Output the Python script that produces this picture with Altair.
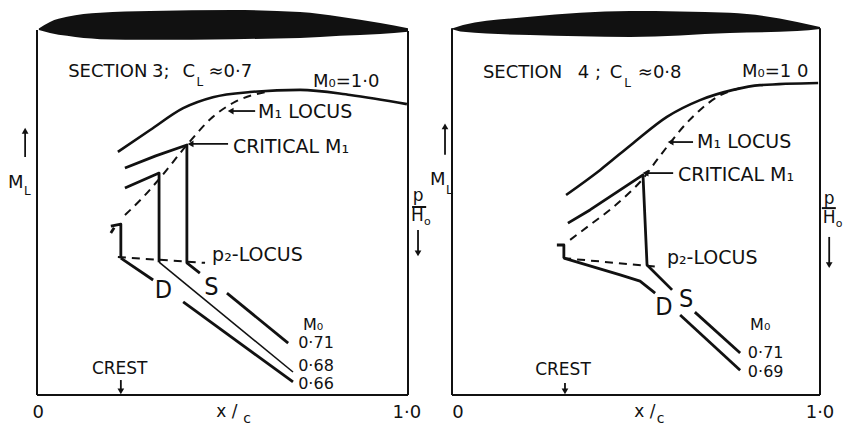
import altair as alt
import pandas as pd

FONT = "DejaVu Sans"
NARROW = "DejaVu Sans Condensed, Liberation Sans Narrow, DejaVu Sans"
INK = "#111111"

# ---------------------------------------------------------------------------
# Section 3 (C_L ~ 0.7).  x/c along the chord, height is normalised so that
# the bottom of the frame is 0 and the chord line of the aerofoil is 1.
# ---------------------------------------------------------------------------
S3_FOIL_X = [0.005, 0.035, 0.081, 0.170, 0.305, 0.528, 0.709, 0.817, 0.925, 1.000]
S3_FOIL_UP = [1.004, 1.022, 1.036, 1.047, 1.052, 1.055, 1.049, 1.036, 1.019, 1.005]
S3_FOIL_LO = [1.000, 0.992, 0.984, 0.975, 0.973, 0.975, 0.978, 0.984, 0.989, 0.995]

S3_M0_10_X = [0.218, 0.305, 0.394, 0.474, 0.574, 0.709, 0.844, 0.997]
S3_M0_10_Y = [0.666, 0.726, 0.786, 0.816, 0.830, 0.836, 0.822, 0.797]

S3_M1_LOCUS_X = [0.237, 0.286, 0.332, 0.404, 0.474, 0.528, 0.615]
S3_M1_LOCUS_Y = [0.493, 0.542, 0.595, 0.685, 0.762, 0.800, 0.830]

S3_071_UP_X = [0.237, 0.320, 0.404, 0.404, 0.439]
S3_071_UP_Y = [0.622, 0.655, 0.685, 0.362, 0.334]
S3_071_DN_X = [0.512, 0.677]
S3_071_DN_Y = [0.279, 0.142]

S3_068_UP_X = [0.237, 0.329, 0.329]
S3_068_UP_Y = [0.567, 0.608, 0.364]
S3_068_DN_X = [0.329, 0.690]
S3_068_DN_Y = [0.364, 0.063]

S3_066_HOOK_X = [0.199, 0.226, 0.226]
S3_066_HOOK_Y = [0.463, 0.468, 0.375]
S3_066_TICK_X = [0.208, 0.199]
S3_066_TICK_Y = [0.458, 0.444]
S3_066_UP_X = [0.226, 0.313]
S3_066_UP_Y = [0.375, 0.315]
S3_066_DN_X = [0.394, 0.690]
S3_066_DN_Y = [0.255, 0.036]

S3_P2_LOCUS_X = [0.218, 0.453]
S3_P2_LOCUS_Y = [0.378, 0.362]

# ---------------------------------------------------------------------------
# Section 4 (C_L ~ 0.8)
# ---------------------------------------------------------------------------
S4_FOIL_X = [0.000, 0.030, 0.212, 0.484, 0.755, 0.938, 1.000]
S4_FOIL_UP = [1.004, 1.014, 1.036, 1.052, 1.047, 1.022, 1.008]
S4_FOIL_LO = [1.002, 0.995, 0.986, 0.981, 0.992, 0.997, 1.003]

S4_M0_10_X = [0.310, 0.402, 0.492, 0.584, 0.674, 0.764, 0.837, 0.995]
S4_M0_10_Y = [0.548, 0.616, 0.690, 0.762, 0.808, 0.836, 0.849, 0.855]

S4_M1_LOCUS_X = [0.321, 0.375, 0.435, 0.484, 0.516, 0.557, 0.592, 0.633, 0.674, 0.720, 0.783]
S4_M1_LOCUS_Y = [0.425, 0.466, 0.512, 0.556, 0.589, 0.644, 0.690, 0.740, 0.781, 0.816, 0.841]

S4_071_UP_X = [0.315, 0.375, 0.448, 0.519, 0.530, 0.598]
S4_071_UP_Y = [0.471, 0.507, 0.556, 0.603, 0.356, 0.288]
S4_071_DN_X = [0.660, 0.783]
S4_071_DN_Y = [0.227, 0.115]

S4_069_HOOK_X = [0.285, 0.304, 0.304]
S4_069_HOOK_Y = [0.411, 0.411, 0.375]
S4_069_UP_X = [0.304, 0.457, 0.511, 0.552]
S4_069_UP_Y = [0.375, 0.329, 0.312, 0.279]
S4_069_DN_X = [0.620, 0.783]
S4_069_DN_Y = [0.219, 0.068]

S4_P2_LOCUS_X = [0.302, 0.565]
S4_P2_LOCUS_Y = [0.375, 0.351]

# Annotation text: (text, x/c, height, font size, align)
S3_LABELS = [
    ("SECTION", 0.084, 0.885, 18, "left"),
    ("3;", 0.310, 0.885, 18, "left"),
    ("C", 0.392, 0.885, 18, "left"),
    ("L", 0.430, 0.858, 12, "left"),
    ("≈0·7", 0.462, 0.885, 18, "left"),
    ("M₀=1·0", 0.744, 0.858, 18, "left"),
    ("M₁ LOCUS", 0.596, 0.775, 19, "left"),
    ("CRITICAL M₁", 0.528, 0.679, 19, "left"),
    ("M", -0.078, 0.581, 18, "left"),
    ("L", -0.035, 0.560, 12, "left"),
    ("p", 1.027, 0.545, 17, "center"),
    ("H", 1.025, 0.490, 17, "center"),
    ("o", 1.052, 0.474, 11, "center"),
    ("p₂-LOCUS", 0.472, 0.384, 19, "left"),
    ("M₀", 0.717, 0.192, 16, "left"),
    ("0·71", 0.704, 0.142, 16, "left"),
    ("0·68", 0.704, 0.079, 16, "left"),
    ("0·66", 0.704, 0.030, 16, "left"),
    ("CREST", 0.148, 0.071, 17, "left"),
    ("0", 0.003, -0.049, 18, "center"),
    ("x /", 0.512, -0.046, 17, "center"),
    ("c", 0.566, -0.065, 14, "center"),
    ("1·0", 0.997, -0.049, 18, "center"),
]
S3_LETTERS = [("D", 0.341, 0.288), ("S", 0.470, 0.296)]

S4_LABELS = [
    ("SECTION", 0.084, 0.882, 18, "left"),
    ("4 ;", 0.342, 0.882, 18, "left"),
    ("C", 0.429, 0.882, 18, "left"),
    ("L", 0.468, 0.855, 12, "left"),
    ("≈0·8", 0.505, 0.882, 18, "left"),
    ("M₀=1 0", 0.788, 0.885, 18, "left"),
    ("M₁ LOCUS", 0.666, 0.693, 19, "left"),
    ("CRITICAL M₁", 0.614, 0.603, 19, "left"),
    ("M", -0.060, 0.589, 18, "left"),
    ("L", -0.016, 0.562, 12, "left"),
    ("p", 1.025, 0.537, 17, "center"),
    ("H", 1.025, 0.486, 17, "center"),
    ("o", 1.052, 0.468, 11, "center"),
    ("p₂-LOCUS", 0.584, 0.375, 19, "left"),
    ("M₀", 0.810, 0.192, 16, "left"),
    ("0·71", 0.804, 0.115, 16, "left"),
    ("0·69", 0.804, 0.063, 16, "left"),
    ("CREST", 0.226, 0.068, 17, "left"),
    ("0", 0.016, -0.049, 18, "center"),
    ("x /", 0.524, -0.046, 17, "center"),
    ("c", 0.567, -0.065, 14, "center"),
    ("1·0", 1.000, -0.049, 18, "center"),
]
S4_LETTERS = [("D", 0.576, 0.241), ("S", 0.636, 0.263)]

# Pointer arrows: shaft (x0, y0, x1, y1) and the head at (x1, y1)
S3_ARROWS = [
    (0.588, 0.778, 0.522, 0.778, "triangle-left"),
    (0.515, 0.688, 0.414, 0.688, "triangle-left"),
    (-0.032, 0.652, -0.032, 0.724, "triangle-up"),
    (1.027, 0.452, 1.027, 0.388, "triangle-down"),
    (0.226, 0.041, 0.226, 0.010, "triangle-down"),
]
S4_ARROWS = [
    (0.655, 0.693, 0.594, 0.693, "triangle-left"),
    (0.601, 0.608, 0.526, 0.608, "triangle-left"),
    (-0.019, 0.658, -0.019, 0.736, "triangle-up"),
    (1.025, 0.433, 1.025, 0.356, "triangle-down"),
    (0.307, 0.033, 0.307, 0.010, "triangle-down"),
]

HEIGHT = 426
Y_DOMAIN = [-31 / 365, 395 / 365]


def path_frame(paths):
    out = []
    for name, xs, ys in paths:
        for k, (x, y) in enumerate(zip(xs, ys)):
            out.append({"path": name, "k": k, "xc": x, "y": y})
    return pd.DataFrame(out, columns=["path", "k", "xc", "y"])


def panel(width, x_domain, foil, smooth, locus, thick, thin, dashed, frame_top,
          bar, labels, letters, arrows):
    X = alt.X("xc:Q", scale=alt.Scale(domain=x_domain, nice=False, zero=False), axis=None)
    Y = alt.Y("y:Q", scale=alt.Scale(domain=Y_DOMAIN, nice=False, zero=False), axis=None)

    def lines(paths, sw, dash=None, interp="linear"):
        kw = dict(color=INK, strokeWidth=sw, interpolate=interp,
                  strokeCap="butt", strokeJoin="round")
        if dash:
            kw["strokeDash"] = dash
        return alt.Chart(path_frame(paths)).mark_line(**kw).encode(
            x=X, y=Y, detail="path:N", order="k:Q")

    fx, fup, flo = foil
    foil_df = pd.DataFrame({"xc": fx, "y": flo, "up": fup})
    foil_layer = alt.Chart(foil_df).mark_area(color=INK, interpolate="monotone").encode(
        x=X, y=Y, y2="up:Q")

    frame = [
        ("left", [0.0, 0.0], [0.0, frame_top[0]]),
        ("bottom", [0.0, 1.0], [0.0, 0.0]),
        ("right", [1.0, 1.0], [0.0, frame_top[1]]),
        ("bar", bar[0], bar[1]),
    ]
    shafts = [(f"a{i}", [a[0], a[2]], [a[1], a[3]]) for i, a in enumerate(arrows)]
    heads = pd.DataFrame([{"xc": a[2], "y": a[3], "shape": a[4]} for a in arrows])

    lab = pd.DataFrame(labels, columns=["text", "xc", "y", "size", "align"])
    let = pd.DataFrame(letters, columns=["text", "xc", "y"])

    def text_layer(df, align):
        return alt.Chart(df).mark_text(font=FONT, color=INK, align=align,
                                       baseline="middle").encode(
            x=X, y=Y, text="text:N", size=alt.Size("size:Q", scale=None))

    layers = [
        foil_layer,
        lines(frame, 2.0),
        lines(smooth, 2.6, interp="monotone"),
        lines(locus, 2.0, dash=[8, 6], interp="monotone"),
        lines(thick, 2.8),
    ]
    if thin:
        layers.append(lines(thin, 1.6))
    layers += [
        lines(dashed, 2.0, dash=[8, 6]),
        lines(shafts, 1.8),
        alt.Chart(heads).mark_point(filled=True, color=INK, opacity=1, size=45).encode(
            x=X, y=Y, shape=alt.Shape("shape:N", scale=None)),
        text_layer(lab[lab["align"] == "left"], "left"),
        text_layer(lab[lab["align"] == "center"], "center"),
        alt.Chart(let).mark_text(font=NARROW, color=INK, fontSize=25,
                                 align="center", baseline="middle").encode(
            x=X, y=Y, text="text:N"),
    ]
    return alt.layer(*layers).properties(width=width, height=HEIGHT)


left = panel(
    424, [-37 / 371, 387 / 371],
    (S3_FOIL_X, S3_FOIL_UP, S3_FOIL_LO),
    smooth=[("m0_10", S3_M0_10_X, S3_M0_10_Y)],
    locus=[("m1", S3_M1_LOCUS_X, S3_M1_LOCUS_Y)],
    thick=[
        ("071a", S3_071_UP_X, S3_071_UP_Y), ("071b", S3_071_DN_X, S3_071_DN_Y),
        ("068a", S3_068_UP_X, S3_068_UP_Y),
        ("066h", S3_066_HOOK_X, S3_066_HOOK_Y), ("066t", S3_066_TICK_X, S3_066_TICK_Y),
        ("066a", S3_066_UP_X, S3_066_UP_Y), ("066b", S3_066_DN_X, S3_066_DN_Y),
    ],
    thin=[("068b", S3_068_DN_X, S3_068_DN_Y)],
    dashed=[("p2", S3_P2_LOCUS_X, S3_P2_LOCUS_Y)],
    frame_top=(1.0, 0.997),
    bar=([1.011, 1.049], [0.515, 0.515]),
    labels=S3_LABELS, letters=S3_LETTERS, arrows=S3_ARROWS,
)

right = panel(
    423, [-28 / 368, 395 / 368],
    (S4_FOIL_X, S4_FOIL_UP, S4_FOIL_LO),
    smooth=[("m0_10", S4_M0_10_X, S4_M0_10_Y)],
    locus=[("m1", S4_M1_LOCUS_X, S4_M1_LOCUS_Y)],
    thick=[
        ("071a", S4_071_UP_X, S4_071_UP_Y), ("071b", S4_071_DN_X, S4_071_DN_Y),
        ("069h", S4_069_HOOK_X, S4_069_HOOK_Y),
        ("069a", S4_069_UP_X, S4_069_UP_Y), ("069b", S4_069_DN_X, S4_069_DN_Y),
    ],
    thin=[],
    dashed=[("p2", S4_P2_LOCUS_X, S4_P2_LOCUS_Y)],
    frame_top=(1.005, 1.005),
    bar=([1.005, 1.043], [0.512, 0.512]),
    labels=S4_LABELS, letters=S4_LETTERS, arrows=S4_ARROWS,
)

chart = alt.hconcat(left, right, spacing=0, bounds="flush").properties(
    padding=0, background="white"
).configure_view(stroke=None)

chart.save("out.html", embed_options={"renderer": "svg", "actions": False})
